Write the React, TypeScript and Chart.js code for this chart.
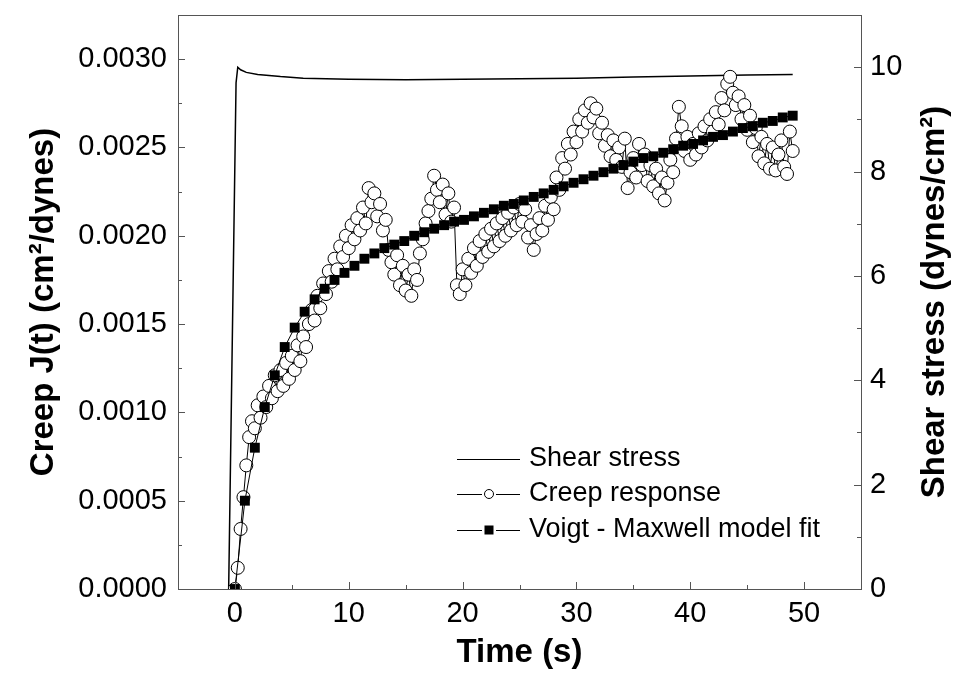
import React, { useEffect, useRef } from "react";
import { Chart, registerables } from "chart.js";

Chart.register(...registerables);

// ---------- data ----------
const stressTime = [-0.55, 0.1, 0.25, 0.5, 1, 2, 4, 6, 10, 15, 20, 25, 30, 35, 40, 45, 49];
const stressValue = [0, 9.7, 10.0, 9.95, 9.9, 9.86, 9.82, 9.79, 9.77, 9.76, 9.77, 9.78, 9.79, 9.81, 9.83, 9.85, 9.86];

const creepTime = [
  0, 0.25, 0.5, 0.75, 1, 1.25, 1.5, 1.75, 2, 2.25, 2.5, 2.75, 3, 3.25, 3.5, 3.75,
  4, 4.25, 4.5, 4.75, 5, 5.25, 5.5, 5.75, 6, 6.25, 6.5, 6.75, 7, 7.25, 7.5, 7.75,
  8, 8.25, 8.5, 8.75, 9, 9.25, 9.5, 9.75, 10, 10.25, 10.5, 10.75, 11, 11.25, 11.5, 11.75,
  12, 12.25, 12.5, 12.75, 13, 13.25, 13.5, 13.75, 14, 14.25, 14.5, 14.75, 15, 15.25, 15.5, 15.75,
  16, 16.25, 16.5, 16.75, 17, 17.25, 17.5, 17.75, 18, 18.25, 18.5, 18.75, 19, 19.25, 19.5, 19.75,
  20, 20.25, 20.5, 20.75, 21, 21.25, 21.5, 21.75, 22, 22.25, 22.5, 22.75, 23, 23.25, 23.5, 23.75,
  24, 24.25, 24.5, 24.75, 25, 25.25, 25.5, 25.75, 26, 26.25, 26.5, 26.75, 27, 27.25, 27.5, 27.75,
  28, 28.25, 28.5, 28.75, 29, 29.25, 29.5, 29.75, 30, 30.25, 30.5, 30.75, 31, 31.25, 31.5, 31.75,
  32, 32.25, 32.5, 32.75, 33, 33.25, 33.5, 33.75, 34, 34.25, 34.5, 34.75, 35, 35.25, 35.5, 35.75,
  36, 36.25, 36.5, 36.75, 37, 37.25, 37.5, 37.75, 38, 38.25, 38.5, 38.75, 39, 39.25, 39.5, 39.75,
  40, 40.25, 40.5, 40.75, 41, 41.25, 41.5, 41.75, 42, 42.25, 42.5, 42.75, 43, 43.25, 43.5, 43.75,
  44, 44.25, 44.5, 44.75, 45, 45.25, 45.5, 45.75, 46, 46.25, 46.5, 46.75, 47, 47.25, 47.5, 47.75,
  48, 48.25, 48.5, 48.75, 49,
];
const creepValue = [
  0, 0.00012, 0.00034, 0.00052,
  0.0007, 0.00086, 0.00095, 0.00091,
  0.00104, 0.00097, 0.00109, 0.00103,
  0.00115, 0.00108, 0.00121, 0.00112,
  0.00124, 0.00115, 0.00128, 0.00119,
  0.00132, 0.00124, 0.00138, 0.00129,
  0.00143, 0.00137, 0.0015, 0.00158,
  0.00152, 0.00166, 0.00159, 0.00173,
  0.00167, 0.0018, 0.00174, 0.00187,
  0.00181, 0.00194, 0.00188, 0.002,
  0.00193, 0.00206, 0.00198, 0.0021,
  0.00203, 0.00216, 0.00207, 0.00227,
  0.00219, 0.00224, 0.00211, 0.00218,
  0.00203, 0.00209, 0.00192, 0.00185,
  0.00178, 0.00189, 0.00172, 0.00183,
  0.00169, 0.00178, 0.00166, 0.00181,
  0.00175, 0.0019, 0.00198, 0.00207,
  0.00214, 0.00221, 0.00234, 0.00226,
  0.00219, 0.00229, 0.00212, 0.00224,
  0.00208, 0.00216, 0.00172, 0.00167,
  0.00181, 0.00172, 0.00187, 0.00179,
  0.00193, 0.00183, 0.00197, 0.00188,
  0.00201, 0.00191, 0.00204, 0.00194,
  0.00207, 0.00197, 0.0021, 0.002,
  0.00213, 0.00203, 0.00216, 0.00206,
  0.00218, 0.00208, 0.00215, 0.00199,
  0.00206, 0.00192, 0.00201, 0.0021,
  0.00203, 0.00217, 0.00209, 0.00222,
  0.00215, 0.00233, 0.00226, 0.00244,
  0.00238, 0.00252, 0.00246, 0.00259,
  0.00253, 0.00266, 0.00259, 0.00271,
  0.00264, 0.00275, 0.00267, 0.00272,
  0.00258, 0.00264, 0.00251, 0.00257,
  0.00245, 0.00254, 0.00243, 0.0025,
  0.00239, 0.00255, 0.00227, 0.00236,
  0.00244, 0.00233, 0.00252, 0.0024,
  0.00246, 0.00231, 0.0024, 0.00228,
  0.00238, 0.00224, 0.00233, 0.0022,
  0.0023, 0.00243, 0.00236, 0.00255,
  0.00273, 0.00262, 0.00248, 0.00256,
  0.00243, 0.00252, 0.00246, 0.00258,
  0.0025, 0.00262, 0.00254, 0.00266,
  0.00259, 0.0027, 0.00263, 0.00278,
  0.00271, 0.00286, 0.0029, 0.00281,
  0.00274, 0.00279, 0.00266, 0.00274,
  0.0026, 0.00268, 0.00253, 0.00261,
  0.00245, 0.00256, 0.00241, 0.00252,
  0.00238, 0.0025, 0.00237, 0.00246,
  0.00254, 0.00239, 0.00235, 0.00259,
  0.00248,
];

const fitTime = [
  0, 0.875, 1.75, 2.625, 3.5, 4.375, 5.25, 6.125, 7, 7.875, 8.75, 9.625, 10.5, 11.375, 12.25,
  13.125, 14, 14.875, 15.75, 16.625, 17.5, 18.375, 19.25, 20.125, 21, 21.875, 22.75, 23.625,
  24.5, 25.375, 26.25, 27.125, 28, 28.875, 29.75, 30.625, 31.5, 32.375, 33.25, 34.125, 35,
  35.875, 36.75, 37.625, 38.5, 39.375, 40.25, 41.125, 42, 42.875, 43.75, 44.625, 45.5, 46.375,
  47.25, 48.125, 49,
];
const fitValue = [
  0, 0.0005, 0.0008, 0.00103, 0.00121, 0.00137, 0.00148, 0.00157, 0.00164, 0.0017, 0.00175, 0.00179, 0.00183, 0.00187, 0.0019,
  0.00193, 0.00195, 0.00197, 0.002, 0.00202, 0.00204, 0.00206, 0.00208, 0.00209, 0.00211, 0.00213, 0.00215, 0.00217,
  0.00218, 0.0022, 0.00222, 0.00224, 0.00226, 0.00228, 0.0023, 0.00232, 0.00234, 0.00236, 0.00238, 0.0024, 0.00242,
  0.00244, 0.00245, 0.00247, 0.00249, 0.00251, 0.00252, 0.00254, 0.00256, 0.00257, 0.00259, 0.00261, 0.00262, 0.00264,
  0.00265, 0.00267, 0.00268,
];

const xTicks = [0, 10, 20, 30, 40, 50];
const xMinorTicks = [5, 15, 25, 35, 45];
const leftTicks = [0, 0.0005, 0.001, 0.0015, 0.002, 0.0025, 0.003];
const leftTickLabels = ["0.0000", "0.0005", "0.0010", "0.0015", "0.0020", "0.0025", "0.0030"];
const leftMinorTicks = [0.00025, 0.00075, 0.00125, 0.00175, 0.00225, 0.00275];
const rightTicks = [0, 2, 4, 6, 8, 10];
const rightTickLabels = ["0", "2", "4", "6", "8", "10"];
const rightMinorTicks = [1, 3, 5, 7, 9];

const seriesLabels = ["Shear stress", "Creep response", "Voigt - Maxwell model fit"];
const xTitle = "Time (s)";
const leftTitle = "Creep J(t) (cm\u00B2/dynes)";
const rightTitle = "Shear stress (dynes/cm\u00B2)";

// ---------- styling ----------
const FONT = '"Liberation Sans", Arial, Helvetica, sans-serif';
const AXIS_COLOR = "#555555";
const TICK_FONT_SIZE = 29;
const TITLE_FONT_SIZE = 33;

const framePlugin = {
  id: "frameTicks",
  afterDatasetsDraw(chart: any) {
    const { ctx, chartArea: a, scales } = chart;
    const x = scales.x, y = scales.y, y2 = scales.y2;
    ctx.save();
    ctx.strokeStyle = AXIS_COLOR;
    ctx.lineWidth = 1;
    ctx.strokeRect(Math.round(a.left) + 0.5, Math.round(a.top) + 0.5, Math.round(a.right - a.left), Math.round(a.bottom - a.top));
    ctx.beginPath();
    const bx = (v: number, len: number) => {
      const p = Math.round(x.getPixelForValue(v)) + 0.5;
      ctx.moveTo(p, a.bottom);
      ctx.lineTo(p, a.bottom - len);
    };
    const ly = (v: number, len: number) => {
      const p = Math.round(y.getPixelForValue(v)) + 0.5;
      ctx.moveTo(a.left, p);
      ctx.lineTo(a.left + len, p);
    };
    const ry = (v: number, len: number) => {
      const p = Math.round(y2.getPixelForValue(v)) + 0.5;
      ctx.moveTo(a.right, p);
      ctx.lineTo(a.right - len, p);
    };
    xTicks.forEach((v) => bx(v, 7));
    xMinorTicks.forEach((v) => bx(v, 4));
    leftTicks.forEach((v) => ly(v, 7));
    leftMinorTicks.forEach((v) => ly(v, 4));
    rightTicks.forEach((v) => ry(v, 7));
    rightMinorTicks.forEach((v) => ry(v, 4));
    ctx.stroke();
    ctx.restore();
  },
  afterDraw(chart: any) {
    const { ctx, chartArea: a } = chart;
    ctx.save();
    // right axis title (reads bottom to top)
    ctx.translate(935, (a.top + a.bottom) / 2);
    ctx.rotate(-Math.PI / 2);
    ctx.fillStyle = "#000";
    ctx.font = `bold ${TITLE_FONT_SIZE}px ${FONT}`;
    ctx.textAlign = "center";
    ctx.textBaseline = "middle";
    ctx.fillText(rightTitle, 0, 0);
    ctx.restore();

    // legend
    const L = { x0: 457, x1: 520, mx: 489, tx: 529, rows: [459, 494, 530] };
    ctx.save();
    ctx.strokeStyle = "#000";
    ctx.fillStyle = "#000";
    ctx.lineWidth = 1;
    ctx.font = `27px ${FONT}`;
    ctx.textBaseline = "middle";
    ctx.textAlign = "left";
    const ds = chart.data.datasets;
    ctx.beginPath();
    ctx.moveTo(L.x0, L.rows[0] + 0.5);
    ctx.lineTo(L.x1, L.rows[0] + 0.5);
    ctx.stroke();
    ctx.fillText(ds[0].label, L.tx, L.rows[0]);
    ctx.beginPath();
    ctx.moveTo(L.x0, L.rows[1] + 0.5);
    ctx.lineTo(L.mx - 7, L.rows[1] + 0.5);
    ctx.moveTo(L.mx + 7, L.rows[1] + 0.5);
    ctx.lineTo(L.x1, L.rows[1] + 0.5);
    ctx.stroke();
    ctx.beginPath();
    ctx.arc(L.mx, L.rows[1], 4.5, 0, Math.PI * 2);
    ctx.fillStyle = "#fff";
    ctx.fill();
    ctx.stroke();
    ctx.fillStyle = "#000";
    ctx.fillText(ds[1].label, L.tx, L.rows[1]);
    ctx.beginPath();
    ctx.moveTo(L.x0, L.rows[2] + 0.5);
    ctx.lineTo(L.mx - 7, L.rows[2] + 0.5);
    ctx.moveTo(L.mx + 7, L.rows[2] + 0.5);
    ctx.lineTo(L.x1, L.rows[2] + 0.5);
    ctx.stroke();
    ctx.fillRect(L.mx - 4.5, L.rows[2] - 4.5, 9, 9);
    ctx.fillText(ds[2].label, L.tx, L.rows[2]);
    ctx.restore();
  },
};

export default function App() {
  const ref = useRef<HTMLCanvasElement>(null);

  useEffect(() => {
    const canvas = ref.current;
    if (!canvas) return;
    Chart.defaults.font.family = FONT;
    Chart.defaults.color = "#000";

    const chart = new Chart(canvas, {
      type: "line",
      data: {
        datasets: [
          {
            label: seriesLabels[0],
            data: stressTime.map((t, i) => ({ x: t, y: stressValue[i] })),
            yAxisID: "y2",
            borderColor: "#000",
            borderWidth: 1.5,
            pointRadius: 0,
            tension: 0,
            order: 3,
          },
          {
            label: seriesLabels[1],
            data: creepTime.map((t, i) => ({ x: t, y: creepValue[i] })),
            yAxisID: "y",
            borderColor: "#000",
            borderWidth: 1,
            pointRadius: 6.5,
            pointStyle: "circle",
            pointBackgroundColor: "#fff",
            pointBorderColor: "#000",
            pointBorderWidth: 1,
            tension: 0,
            order: 2,
          },
          {
            label: seriesLabels[2],
            data: fitTime.map((t, i) => ({ x: t, y: fitValue[i] })),
            yAxisID: "y",
            borderColor: "#000",
            borderWidth: 1,
            pointRadius: 7,
            pointStyle: "rect",
            pointBackgroundColor: "#000",
            pointBorderColor: "#000",
            pointBorderWidth: 0,
            tension: 0,
            order: 1,
          },
        ],
      },
      options: {
        responsive: false,
        animation: false,
        devicePixelRatio: 1,
        events: [],
        layout: { padding: { top: 15, left: 0, right: 0, bottom: 0 } },
        plugins: { legend: { display: false }, tooltip: { enabled: false }, title: { display: false } },
        scales: {
          x: {
            type: "linear",
            min: -5,
            max: 55,
            grid: { display: false, drawTicks: false },
            border: { display: false },
            afterBuildTicks: (s: any) => {
              s.ticks = xTicks.map((value) => ({ value }));
            },
            afterFit: (s: any) => {
              s.height = 84;
            },
            ticks: {
              autoSkip: false,
              maxRotation: 0,
              padding: 8,
              color: "#000",
              font: { size: TICK_FONT_SIZE, family: FONT, lineHeight: 1.2 },
              callback: (v: any) => String(v),
            },
            title: {
              display: true,
              text: xTitle,
              color: "#000",
              font: { size: TITLE_FONT_SIZE, weight: "bold", family: FONT, lineHeight: 1 },
              padding: { top: 0, bottom: 4 },
            },
          },
          y: {
            type: "linear",
            position: "left",
            min: 0,
            max: 0.00325,
            grid: { display: false, drawTicks: false },
            border: { display: false },
            afterBuildTicks: (s: any) => {
              s.ticks = leftTicks.map((value) => ({ value }));
            },
            afterFit: (s: any) => {
              s.width = 178;
              s.paddingTop = 0;
              s.paddingBottom = 0;
            },
            ticks: {
              autoSkip: false,
              padding: 11,
              color: "#000",
              font: { size: TICK_FONT_SIZE, family: FONT },
              callback: (_v: any, i: number) => leftTickLabels[i],
            },
            title: {
              display: true,
              text: leftTitle,
              color: "#000",
              font: { size: TITLE_FONT_SIZE, weight: "bold", family: FONT, lineHeight: 1 },
              padding: { top: 27, bottom: 0 },
            },
          },
          y2: {
            type: "linear",
            position: "right",
            min: 0,
            max: 11,
            grid: { display: false, drawTicks: false },
            border: { display: false },
            afterBuildTicks: (s: any) => {
              s.ticks = rightTicks.map((value) => ({ value }));
            },
            afterFit: (s: any) => {
              s.width = 94;
              s.paddingTop = 0;
              s.paddingBottom = 0;
            },
            ticks: {
              autoSkip: false,
              padding: 9,
              color: "#000",
              font: { size: TICK_FONT_SIZE, family: FONT },
              callback: (_v: any, i: number) => rightTickLabels[i],
            },
          },
        },
      },
      plugins: [framePlugin],
    } as any);

    return () => chart.destroy();
  }, []);

  return (
    <div style={{ position: "fixed", left: 0, top: 0, width: 955, height: 673, background: "#fff" }}>
      <canvas ref={ref} width={955} height={673} style={{ display: "block", width: 955, height: 673 }} />
    </div>
  );
}
